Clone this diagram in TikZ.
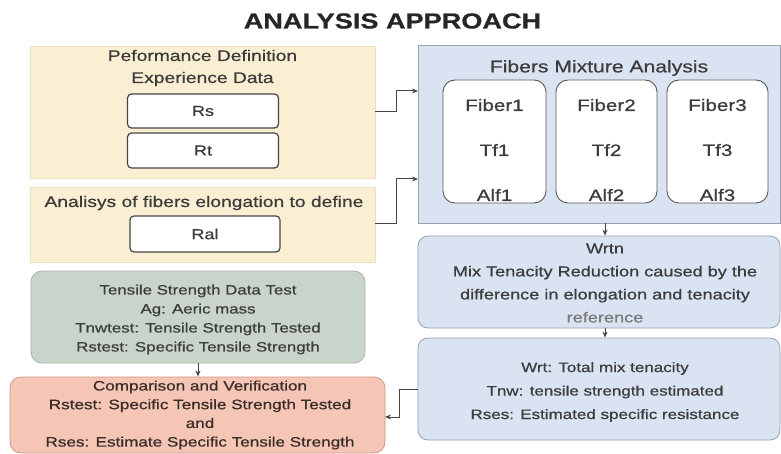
\documentclass[tikz,border=0pt]{standalone}
\usepackage{fontspec}
\setmainfont{Liberation Sans}[FakeStretch=1.25,FakeBold=0.7]
\usetikzlibrary{arrows.meta}
\definecolor{ylw}{HTML}{FBEFD3}
\definecolor{ylwb}{HTML}{EDE0C2}
\definecolor{blu}{HTML}{DAE3F2}
\definecolor{blub}{HTML}{98A2B3}
\definecolor{grn}{HTML}{C9D5CA}
\definecolor{grnb}{HTML}{A7B3A8}
\definecolor{pnk}{HTML}{F5C6B6}
\definecolor{pnkb}{HTML}{D39484}
\definecolor{txtc}{HTML}{3C3C3C}
\definecolor{ptxt}{HTML}{3A2C28}
\definecolor{refc}{HTML}{7A7A7A}
\definecolor{ln}{HTML}{454545}
\tikzset{
  ybox/.style={rectangle, draw=ylwb, fill=ylw, line width=0.6pt, inner sep=0pt},
  wbox/.style={rectangle, rounded corners=4pt, draw=ln, fill=white, line width=1.2pt, inner sep=0pt, text=txtc, font=\fontsize{14.5}{17}\selectfont},
  fibbox/.style={rectangle, rounded corners=12pt, draw=ln!90, fill=white, line width=0.9pt, inner sep=0pt},
  bbox/.style={rectangle, draw=blub, fill=blu, line width=0.8pt, inner sep=0pt},
  gbox/.style={rectangle, rounded corners=11pt, draw=grnb, fill=grn, line width=0.8pt, inner sep=0pt},
  pbox/.style={rectangle, rounded corners=11pt, draw=pnkb, fill=pnk, line width=0.8pt, inner sep=0pt},
  lbl/.style={text=txtc, align=center, inner sep=0pt},
  conn/.style={draw=ln, line width=1pt, -{Stealth[length=6pt,width=5pt]}},
}
\begin{document}
\begin{tikzpicture}[x=1pt,y=-1pt]
\useasboundingbox (0,0) rectangle (781,454);
\fill[white] (0,0) rectangle (781,454);

% title
\node[text=black!85, inner sep=0pt, font=\fontsize{21.7}{26}\bfseries\selectfont] (title) at (392.5,21) {ANALYSIS APPROACH};

% left column
\node[ybox, minimum width=345pt, minimum height=132pt] (y1) at (202.5,112) {};
\node[lbl, font=\fontsize{15.4}{22}\selectfont] (y1t) at (202.5,68) {Peformance Definition\\Experience Data};
\node[wbox, minimum width=151pt, minimum height=34pt] (rs) at (203,111) {Rs};
\node[wbox, minimum width=151pt, minimum height=35pt] (rt) at (203,150.5) {Rt};

\node[ybox, minimum width=345pt, minimum height=75pt] (y2) at (202.5,224.5) {};
\node[lbl, font=\fontsize{15.4}{18}\selectfont] (y2t) at (204,203) {Analisys of fibers elongation to define};
\node[wbox, minimum width=150pt, minimum height=36pt] (ral) at (205,234) {Ral};

\node[gbox, minimum width=334pt, minimum height=92pt] (g) at (198,317) {};
\node[lbl, font=\fontsize{13.5}{19}\selectfont] (gt) at (198,319.5) {Tensile Strength Data Test\\Ag: Aeric mass\\Tnwtest: Tensile Strength Tested\\Rstest: Specific Tensile Strength};

\node[pbox, minimum width=375pt, minimum height=76pt] (p) at (197.5,415) {};
\node[lbl, text=ptxt, font=\fontsize{13.7}{18.7}\selectfont] (pt) at (200,415) {Comparison and Verification\\Rstest: Specific Tensile Strength Tested\\and\\Rses: Estimate Specific Tensile Strength};

% right column
\node[bbox, minimum width=362pt, minimum height=178pt] (b1) at (599,134) {};
\node[lbl, font=\fontsize{16.9}{20}\selectfont] (b1t) at (599,68) {Fibers Mixture Analysis};
\node[fibbox, minimum width=103pt, minimum height=123pt] (f1) at (494.5,141.5) {};
\node[fibbox, minimum width=101pt, minimum height=123pt] (f2) at (606.5,141.5) {};
\node[fibbox, minimum width=101pt, minimum height=123pt] (f3) at (717.5,141.5) {};
\node[lbl, font=\fontsize{16.5}{45}\selectfont] (f1t) at (494.5,150) {Fiber1\\Tf1\\Alf1};
\node[lbl, font=\fontsize{16.5}{45}\selectfont] (f2t) at (606.5,150) {Fiber2\\Tf2\\Alf2};
\node[lbl, font=\fontsize{16.5}{45}\selectfont] (f3t) at (717.5,150) {Fiber3\\Tf3\\Alf3};

\node[bbox, rounded corners=10pt, minimum width=362pt, minimum height=92pt] (b2) at (599,282) {};
\node[lbl, font=\fontsize{14.5}{23}\selectfont] (b2t) at (605,283) {Wrtn\\Mix Tenacity Reduction caused by the\\difference in elongation and tenacity\\\textcolor{refc}{reference}};

\node[bbox, rounded corners=10pt, minimum width=362pt, minimum height=102pt] (b3) at (599,389) {};
\node[lbl, font=\fontsize{13.6}{23.5}\selectfont] (b3t) at (605,392) {Wrt: Total mix tenacity\\Tnw: tensile strength estimated\\Rses: Estimated specific resistance};

% connectors
\coordinate (in1) at (418,91);
\coordinate (in2) at (418,179);
\coordinate (in3) at (385,417);
\draw[conn] (y1.east) -- (396,112) |- (in1);
\draw[conn] (y2.east |- 0,224) -- (396,224) |- (in2);
\draw[conn] (b3.west) -- (399,389) |- (in3);
\draw[conn] (b1.south -| 605,0) -- (b2.north -| 605,0);
\draw[conn] (b2.south -| 605,0) -- (b3.north -| 605,0);
\draw[conn] (g.south) -- (p.north -| g.south);
\end{tikzpicture}
\end{document}
